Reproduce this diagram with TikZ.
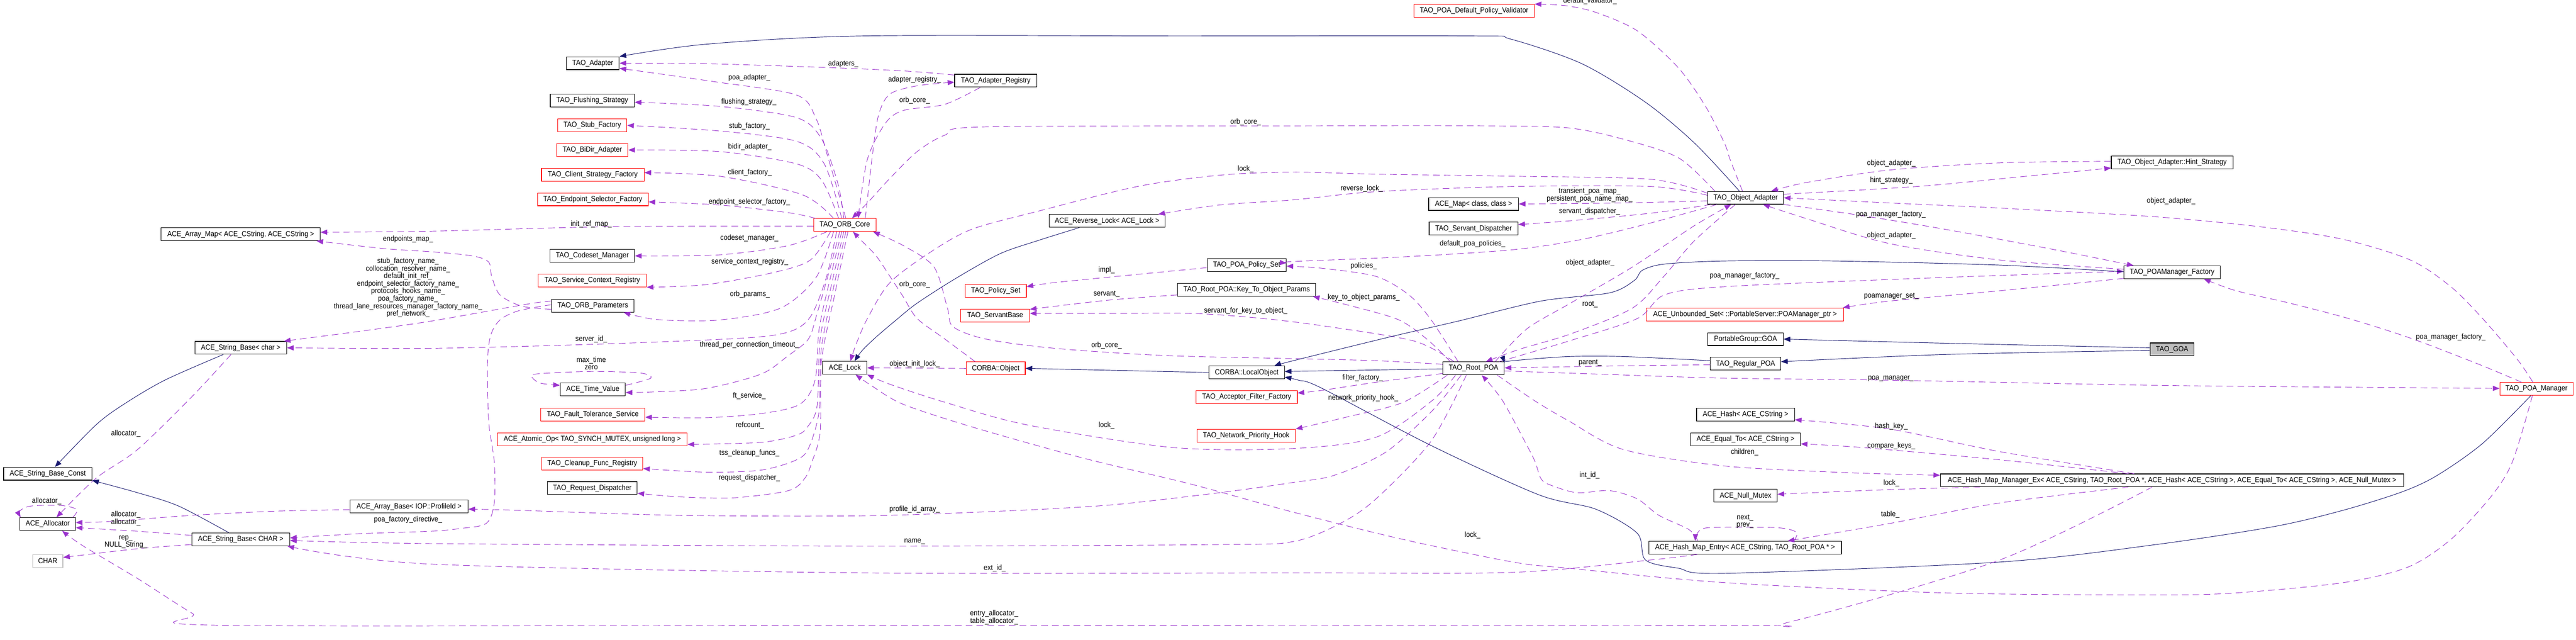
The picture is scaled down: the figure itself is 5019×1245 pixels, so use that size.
\documentclass[tikz,border=0pt]{standalone}
\usepackage{fontspec}
\setmainfont[FakeStretch=0.91]{Liberation Sans}
\usetikzlibrary{arrows.meta}
\definecolor{depc}{HTML}{9A32CD}
\definecolor{inhc}{HTML}{191970}
\definecolor{grayc}{HTML}{BFBFBF}
\newcommand{\dxfont}{\fontsize{14.5}{14.7}\selectfont}
\tikzset{
  box/.style={draw=black, line width=1.1pt, inner sep=0pt, minimum height=25pt, font=\dxfont, fill=white},
  rbox/.style={box, draw=red},
  lbl/.style={inner sep=0pt, font=\dxfont, align=center},
  dep/.style={draw=depc, line width=0.95pt, dash pattern=on 13pt off 8pt, -{Triangle[length=13pt,width=10pt]}},
  inh/.style={draw=inhc, line width=0.95pt, -{Triangle[length=13pt,width=10pt]}}
}
\begin{document}
\begin{tikzpicture}[x=1pt,y=-1pt]
\fill[white] (0,0) rectangle (5019,1245);
\useasboundingbox (0,0) rectangle (5019,1245);
% nodes
\node[box, minimum width=310pt] (arraymap) at (469,456) {ACE\_Array\_Map< ACE\_CString, ACE\_CString >};
\node[box, minimum width=179pt] (sbchar) at (469,677) {ACE\_String\_Base< char >};
\node[box, minimum width=172pt] (sbconst) at (93,922) {ACE\_String\_Base\_Const};
\node[box, minimum width=108pt] (alloc) at (93,1020) {ACE\_Allocator};
\node[box, draw=grayc, minimum width=59pt] (charn) at (93,1092) {CHAR};
\node[box, minimum width=191pt] (sbCHAR) at (469,1050) {ACE\_String\_Base< CHAR >};
\node[box, minimum width=230pt] (arraybase) at (797,986) {ACE\_Array\_Base< IOP::ProfileId >};
\node[rbox, minimum width=121pt] (orbcore) at (1646,438) {TAO\_ORB\_Core};
\node[box, minimum width=103pt] (adapter) at (1155,123) {TAO\_Adapter};
\node[box, minimum width=164pt] (flush) at (1154,196) {TAO\_Flushing\_Strategy};
\node[rbox, minimum width=135pt] (stubf) at (1154,244) {TAO\_Stub\_Factory};
\node[rbox, minimum width=139pt] (bidir) at (1154,292) {TAO\_BiDir\_Adapter};
\node[rbox, minimum width=200pt] (clientf) at (1155,340) {TAO\_Client\_Strategy\_Factory};
\node[rbox, minimum width=216pt] (endpf) at (1155,388) {TAO\_Endpoint\_Selector\_Factory};
\node[box, minimum width=165pt] (codeset) at (1154,498) {TAO\_Codeset\_Manager};
\node[rbox, minimum width=211pt] (scr) at (1154,546) {TAO\_Service\_Context\_Registry};
\node[box, minimum width=160pt] (orbparams) at (1155,595) {TAO\_ORB\_Parameters};
\node[box, minimum width=127pt] (timeval) at (1155,758) {ACE\_Time\_Value};
\node[rbox, minimum width=203pt] (ft) at (1155,807) {TAO\_Fault\_Tolerance\_Service};
\node[rbox, minimum width=370pt] (atomic) at (1154,855) {ACE\_Atomic\_Op< TAO\_SYNCH\_MUTEX, unsigned long >};
\node[rbox, minimum width=197pt] (cleanup) at (1154,902) {TAO\_Cleanup\_Func\_Registry};
\node[box, minimum width=175pt] (reqdisp) at (1154,950) {TAO\_Request\_Dispatcher};
\node[box, minimum width=86pt] (acelock) at (1646,716) {ACE\_Lock};
\node[box, minimum width=160pt] (adreg) at (1940,157) {TAO\_Adapter\_Registry};
\node[box, minimum width=226pt] (revlock) at (2157,430) {ACE\_Reverse\_Lock< ACE\_Lock >};
\node[box, minimum width=154pt] (poapolset) at (2429,516) {TAO\_POA\_Policy\_Set};
\node[rbox, minimum width=119pt] (polset) at (1940,566) {TAO\_Policy\_Set};
\node[box, minimum width=269pt] (k2o) at (2429,564) {TAO\_Root\_POA::Key\_To\_Object\_Params};
\node[rbox, minimum width=134pt] (servant) at (1939,614) {TAO\_ServantBase};
\node[rbox, minimum width=115pt] (corbaobj) at (1940,717) {CORBA::Object};
\node[box, minimum width=147pt] (localobj) at (2429,725) {CORBA::LocalObject};
\node[rbox, minimum width=197pt] (aff) at (2429,773) {TAO\_Acceptor\_Filter\_Factory};
\node[rbox, minimum width=192pt] (nph) at (2428,848) {TAO\_Network\_Priority\_Hook};
\node[rbox, minimum width=235pt] (validator) at (2872,21) {TAO\_POA\_Default\_Policy\_Validator};
\node[box, minimum width=175pt] (acemap) at (2871,397) {ACE\_Map< class, class >};
\node[box, minimum width=173pt] (servdisp) at (2871,445) {TAO\_Servant\_Dispatcher};
\node[box, minimum width=148pt] (objadapter) at (3401,385) {TAO\_Object\_Adapter};
\node[rbox, minimum width=384pt] (unbset) at (3400,612) {ACE\_Unbounded\_Set< ::PortableServer::POAManager\_ptr >};
\node[box, minimum width=120pt] (rootpoa) at (2871,717) {TAO\_Root\_POA};
\node[box, minimum width=147pt] (pggoa) at (3401,660) {PortableGroup::GOA};
\node[box, minimum width=137pt] (regpoa) at (3401,708) {TAO\_Regular\_POA};
\node[box, minimum width=191pt] (acehash) at (3401,807) {ACE\_Hash< ACE\_CString >};
\node[box, minimum width=214pt] (aceeq) at (3401,855) {ACE\_Equal\_To< ACE\_CString >};
\node[box, minimum width=123pt] (nullmutex) at (3401,965) {ACE\_Null\_Mutex};
\node[box, minimum width=375pt] (hmentry) at (3400,1066) {ACE\_Hash\_Map\_Entry< ACE\_CString, TAO\_Root\_POA * >};
\node[box, minimum width=237pt] (hint) at (4232,316) {TAO\_Object\_Adapter::Hint\_Strategy};
\node[box, minimum width=188pt] (poamf) at (4232,530) {TAO\_POAManager\_Factory};
\node[box, fill=grayc, minimum width=86pt] (goa) at (4232,680) {TAO\_GOA};
\node[box, minimum width=903pt] (hmmgr) at (4232,935) {ACE\_Hash\_Map\_Manager\_Ex< ACE\_CString, TAO\_Root\_POA *, ACE\_Hash< ACE\_CString >, ACE\_Equal\_To< ACE\_CString >, ACE\_Null\_Mutex >};
\node[rbox, minimum width=143pt] (poamgr) at (4942,757) {TAO\_POA\_Manager};

% ---- edges: ORB core
\draw[inh] plot[smooth] coordinates {([xshift=-12pt]objadapter.north) (3302,279) (3206,199) (3082,124) (2943,76) (2874,70) (2300,70) (1680,70) (1376,86) (adapter.north east)};
\draw[dep] plot[smooth] coordinates {([yshift=11pt]adreg.west) (1760,138) (1600,131) (1376,124) (adapter.east)};
\draw[dep] plot[smooth] coordinates {([xshift=2pt]orbcore.north) (1611,299) (1590,231) (1552,185) (1392,159) ([yshift=-10pt]adapter.east)};
\draw[dep] plot[smooth] coordinates {([xshift=-2pt]orbcore.north) (1633,359) (1601,271) (1552,229) (1402,207) ([yshift=-3pt]flush.east)};
\draw[dep] plot[smooth] coordinates {([xshift=-6pt]orbcore.north) (1606,319) (1552,275) (1402,255) (stubf.east)};
\draw[dep] plot[smooth] coordinates {([xshift=-12pt]orbcore.north) (1601,351) (1552,319) (1402,295) (bidir.east)};
\draw[dep] plot[smooth] coordinates {([xshift=-22pt]orbcore.north) (1563,379) (1402,343) ([yshift=4pt]clientf.east)};
\draw[dep] plot[smooth] coordinates {([xshift=4pt]orbcore.north west) (1536,414) (1402,399) ([yshift=-5pt]endpf.east)};
\draw[dep] plot[smooth] coordinates {([yshift=-2pt]orbcore.west) (1200,441) (840,450) ([yshift=4pt]arraymap.east)};
\draw[dep] plot[smooth] coordinates {([xshift=-35pt]orbcore.south) (1536,478) (1402,496) (codeset.east)};
\draw[dep] plot[smooth] coordinates {([xshift=-28pt]orbcore.south) (1579,506) (1509,530) (1376,554) (scr.south east)};
\draw[dep] plot[smooth] coordinates {([xshift=-22pt]orbcore.south) (1590,540) (1520,600) (1400,623) (1280,622) ([xshift=60pt]orbparams.south)};
\draw[dep] plot[smooth] coordinates {([xshift=-16pt]orbcore.south) (1610,540) (1580,615) (1540,645) (1450,658) (1160,670) (840,678) (sbchar.east)};
\draw[dep] plot[smooth] coordinates {([xshift=-10pt]orbcore.south) (1615,530) (1592,610) (1575,660) (1536,692) (1483,728) (1376,756) (1268,763) ([yshift=-6pt]timeval.east)};
\draw[dep] plot[smooth] coordinates {([xshift=-6pt]orbcore.south) (1618,540) (1596,640) (1588,740) (1558,787) (1483,805) (1376,813) ([yshift=-5pt]ft.east)};
\draw[dep] plot[smooth] coordinates {([xshift=-2pt]orbcore.south) (1621,550) (1598,660) (1592,790) (1574,830) (1552,847) (1483,861) ([yshift=3pt]atomic.south east)};
\draw[dep] plot[smooth] coordinates {([xshift=2pt]orbcore.south) (1624,560) (1600,680) (1596,800) (1576,871) (1552,895) (1483,915) (1376,919) ([yshift=-10pt]cleanup.east)};
\draw[dep] plot[smooth] coordinates {([xshift=6pt]orbcore.south) (1627,570) (1601,700) (1598,840) (1582,899) (1568,931) (1536,955) (1429,969) (1322,967) ([yshift=-10pt]reqdisp.east)};
\draw[dep] plot[smooth] coordinates {([xshift=40pt]orbcore.north) (1700,300) (1712,223) (1734,183) (1787,167) ([yshift=-3pt]adreg.west)};
\draw[dep] plot[smooth] coordinates {([xshift=-30pt]adreg.south) (1841,203) (1760,215) (1725,240) (1690,310) ([xshift=26pt]orbcore.north)};
\draw[dep] plot[smooth] coordinates {([xshift=-60pt]objadapter.north) (3270,307) (3163,271) (3056,249) (2900,245) (2520,245) (1916,247) (1841,263) (1787,295) (1734,347) (1690,395) ([xshift=14pt]orbcore.north)};
\draw[dep] plot[smooth] coordinates {([xshift=-40pt]corbaobj.north) (1841,660) (1787,620) (1760,578) (1734,538) (1707,498) (1680,470) ([xshift=16pt]orbcore.south)};
\draw[dep] plot[smooth] coordinates {([yshift=8pt]rootpoa.west) (2681,702) (2520,698) (2269,692) (2055,678) (1921,660) (1857,636) (1846,600) (1820,520) (1760,478) ([xshift=-6pt]orbcore.south east)};

% ---- ACE_Lock
\draw[dep] plot[smooth] coordinates {([yshift=9pt]objadapter.west) (3216,349) (2948,343) (2681,339) (2520,335) (2376,341) (2216,363) (2023,411) (1894,446) (1814,490) (1734,550) (1690,620) (1668,670) ([xshift=11pt]acelock.north)};
\draw[inh] plot[smooth] coordinates {([xshift=-54pt]revlock.south) (2023,468) (1948,494) (1862,542) (1787,590) (1747,622) (1707,656) (1680,682) ([xshift=19pt]acelock.north)};
\draw[dep] plot[smooth] coordinates {([yshift=5pt]objadapter.west) (3216,363) (2948,363) (2681,373) (2520,389) (2376,399) ([xshift=-14pt]revlock.north east)};
\draw[dep] (corbaobj.west) -- (acelock.east);
\draw[dep] plot[smooth] coordinates {([xshift=-35pt]rootpoa.south) (2790,780) (2681,851) (2520,873) (2285,871) (2001,827) (1841,783) (1734,748) (acelock.south east)};
\draw[dep] plot[smooth] coordinates {([xshift=-8pt]poamgr.south) (4895,899) (4853,967) (4775,1050) (4691,1104) (4566,1134) (4357,1154) (4200,1158) (3788,1154) (3360,1134) (3056,1106) (2948,1094) (2734,1050) (2520,997) (2323,943) (2108,891) (1894,831) (1760,787) (1700,752) ([xshift=21pt]acelock.south)};

% ---- ORB parameters
\draw[dep] plot[smooth] coordinates {([yshift=9pt]orbparams.west) (1027,592) (840,625) (700,645) ([xshift=-6pt]sbchar.north east)};
\draw[dep] plot[smooth] coordinates {([yshift=-7pt]orbparams.west) (1017,596) (974,574) (958,538) (952,510) (920,498) (840,490) (750,484) ([xshift=-8pt]arraymap.south east)};
\draw[dep] plot[smooth] coordinates {([yshift=2pt]orbparams.west) (1010,605) (975,622) (957,650) (950,700) (952,819) (963,899) (963,979) (947,1019) (894,1029) (840,1034) (696,1039) ([yshift=3pt]sbCHAR.east)};

% ---- Root POA
\draw[dep] plot[smooth] coordinates {([xshift=-14pt]rootpoa.south) (2788,859) (2681,971) (2611,1019) (2520,1054) (2376,1060) (1680,1063) (840,1058) ([yshift=-2pt]sbCHAR.east)};
\draw[dep] plot[smooth] coordinates {([xshift=-93pt]hmentry.south) (3216,1090) (2948,1114) (2520,1115) (1680,1115) (840,1098) ([xshift=-5pt]sbCHAR.south east)};
\draw[dep] plot[smooth] coordinates {([xshift=-24pt]rootpoa.south) (2790,800) (2700,880) (2600,925) (2520,939) (2376,959) (2162,983) (1948,995) (1680,1004) (1322,1003) (1001,993) ([yshift=-5pt]arraybase.east)};
\draw[dep] plot[smooth] coordinates {([xshift=46pt]rootpoa.south) (2990,780) (3056,819) (3163,875) (3360,907) (3600,920) ([yshift=10pt]hmmgr.west)};
\draw[dep] plot[smooth] coordinates {([yshift=-10pt]rootpoa.west) (2681,744) (2574,760) ([yshift=8pt]aff.east)};
\draw[dep] plot[smooth] coordinates {([xshift=-51pt]rootpoa.south) (2734,783) (2627,811) (nph.north east)};
\draw[dep] plot[smooth] coordinates {([xshift=-30pt]rootpoa.north) (2788,622) (2745,574) (2681,538) (2574,522) ([yshift=-2pt]poapolset.east)};
\draw[dep] plot[smooth] coordinates {([xshift=-45pt]rootpoa.north) (2780,660) (2724,622) (2627,594) ([xshift=-6pt]k2o.south east)};
\draw[dep] plot[smooth] coordinates {([xshift=-38pt]rootpoa.north) (2756,664) (2590,636) (2462,620) (2323,610) (2162,610) ([yshift=4pt]servant.east)};
\draw[dep] plot[smooth] coordinates {([xshift=-20pt]objadapter.south) (3300,470) (3240,540) (3180,600) (3060,650) (2960,680) ([xshift=24pt]rootpoa.north)};
\draw[dep] plot[smooth] coordinates {([xshift=42pt]rootpoa.north) (2975,640) (3060,590) (3180,520) (3300,440) ([xshift=-28pt]objadapter.south)};
\draw[dep] plot[smooth] coordinates {([xshift=50pt]rootpoa.north) (3056,664) (3190,620) (3243,574) (3360,558) (3735,542) ([yshift=2pt]poamf.west)};
\draw[dep] plot[smooth] coordinates {([yshift=-5pt]rootpoa.east) (3109,728) (3360,736) (3681,740) (4200,750) (4618,754) ([yshift=1pt]poamgr.west)};
\draw[inh] plot[smooth] coordinates {([yshift=6pt]regpoa.west) (3163,694) (3056,694) (2948,702) ([yshift=-2pt]rootpoa.north east)};
\draw[dep] plot[smooth] coordinates {([yshift=-2pt]regpoa.west) (3163,712) ([yshift=1pt]rootpoa.east)};
\draw[inh] plot[smooth] coordinates {([yshift=3pt]goa.west) (3788,668) (pggoa.east)};
\draw[inh] plot[smooth] coordinates {([yshift=-2pt]goa.west) (3788,690) ([yshift=4pt]regpoa.east)};
\draw[inh] ([yshift=-1pt]rootpoa.west) -- ([yshift=2pt]localobj.east);
\draw[inh] plot[smooth] coordinates {([xshift=-11pt]poamgr.south) (4837,863) (4749,925) (4681,957) (4566,993) (4430,1025) (4200,1060) (3896,1094) (3360,1116) (3270,1106) (3206,1090) (3190,1038) (3109,991) (2998,963) (2788,867) (2574,755) (2530,740) ([yshift=-9pt]localobj.east)};
\draw[inh] plot[smooth] coordinates {([yshift=1pt]poamf.west) (3896,516) (3574,508) (3360,508) (3243,514) (3200,526) (3184,546) (3136,570) (3002,586) (2841,625) (2707,656) (2520,702) ([xshift=54pt]localobj.north)};
\draw[inh] (localobj.west) -- (corbaobj.east);
\draw[dep] plot[smooth] coordinates {([yshift=-5pt]poapolset.west) (2216,534) (2055,550) ([yshift=8pt]polset.east)};
\draw[dep] plot[smooth] coordinates {([yshift=-10pt]k2o.west) (2162,584) ([yshift=12pt]servant.east)};

% ---- Object adapter
\draw[dep] plot[smooth] coordinates {([yshift=-6pt]objadapter.west) (3163,395) (acemap.east)};
\draw[dep] plot[smooth] coordinates {([xshift=-67pt]objadapter.south) (3216,415) (3056,430) ([yshift=8pt]servdisp.east)};
\draw[dep] plot[smooth] coordinates {([xshift=-56pt]objadapter.south) (3216,434) (3082,466) (2948,486) (2734,500) (2520,509) ([yshift=4pt]poapolset.east)};
\draw[dep] plot[smooth] coordinates {([xshift=-6pt]objadapter.north) (3371,311) (3360,279) (3323,207) (3270,132) (3190,60) (3109,24) (3050,11) (validator.north east)};
\draw[dep] plot[smooth] coordinates {([yshift=7pt]objadapter.east) (3735,363) (3949,343) ([yshift=-11pt]hint.west)};
\draw[dep] plot[smooth] coordinates {([yshift=2pt]hint.west) (3896,317) (3681,331) (3521,355) ([xshift=50pt]objadapter.north)};
\draw[dep] plot[smooth] coordinates {(objadapter.south east) (3617,418) (3788,446) (4003,486) ([xshift=-75pt]poamf.north)};
\draw[dep] plot[smooth] coordinates {([yshift=6pt]poamf.west) (3896,506) (3681,474) (3521,426) ([xshift=34pt]objadapter.south)};
\draw[dep] plot[smooth] coordinates {([yshift=-12pt]poamf.west) (3896,566) (3681,586) ([xshift=-2pt]unbset.north east)};
\draw[dep] plot[smooth] coordinates {([xshift=-7pt]poamgr.north) (4905,700) (4837,620) (4775,558) (4696,506) (4566,466) (4409,442) (4200,422) (3896,405) (3681,395) (objadapter.east)};
\draw[dep] plot[smooth] coordinates {([xshift=-29pt]poamgr.north) (4827,708) (4696,658) (4576,620) (4461,590) (4357,566) ([xshift=62pt]poamf.south)};

% ---- Hash map
\draw[dep] plot[smooth] coordinates {([xshift=-74pt]hmmgr.north) (3896,879) (3681,835) ([yshift=-10pt]acehash.east)};
\draw[dep] plot[smooth] coordinates {([xshift=-85pt]hmmgr.north) (3896,895) (3628,871) ([yshift=-9pt]aceeq.east)};
\draw[dep] plot[smooth] coordinates {([xshift=-374pt]hmmgr.south) (3681,953) ([yshift=3pt]nullmutex.east)};
\draw[dep] plot[smooth] coordinates {([xshift=-85pt]hmmgr.south) (3896,979) (3681,1019) ([xshift=83pt]hmentry.north)};
\draw[dep] plot[smooth] coordinates {([xshift=-39pt]hmmgr.south) (3896,1090) (3489,1210) (3360,1217) (1680,1217) (428,1217) (375,1194) (268,1126) (161,1062) ([xshift=28pt]alloc.south)};
\draw[dep] plot[smooth] coordinates {([xshift=-92pt]hmentry.north) (3291,1031) (3232,1003) (3190,971) (3136,955) (3072,959) (3018,943) (3002,931) (2991,899) (2975,867) (2927,779) ([xshift=16pt]rootpoa.south)};
\draw[dep] plot[smooth] coordinates {([xshift=95pt]hmentry.north) (3500,1036) (3460,1027) (3330,1027) (3307,1038) ([xshift=-97pt]hmentry.north)};

% ---- strings
\draw[inh] plot[smooth] coordinates {([xshift=-34pt]sbchar.south) (321,740) (241,787) (187,827) ([xshift=14pt]sbconst.north)};
\draw[dep] plot[smooth] coordinates {([xshift=-19pt]sbchar.south) (375,771) (268,875) (187,931) ([xshift=17pt]alloc.north)};
\draw[inh] plot[smooth] coordinates {([xshift=-23pt]sbCHAR.north) (348,985) (268,959) (sbconst.south east)};
\draw[dep] plot[smooth] coordinates {([yshift=8pt]sbCHAR.west) (268,1034) ([yshift=-7pt]alloc.east)};
\draw[dep] plot[smooth] coordinates {([yshift=-10pt]sbCHAR.west) (268,1068) ([yshift=7pt]charn.east)};
\draw[dep] plot[smooth] coordinates {([yshift=-6pt]arraybase.west) (536,995) (375,1003) (214,1015) ([yshift=3pt]alloc.east)};
\draw[dep] plot[smooth] coordinates {([xshift=49pt]alloc.north) (150,992) (120,984) (60,985) (38,995) ([xshift=-53pt]alloc.north)};
\draw[dep] plot[smooth] coordinates {([yshift=8pt]timeval.east) (1268,736) (1247,726) (1151,723) (1044,728) (1038,736) (1054,746) ([yshift=8pt]timeval.west)};

% ---- labels
\node[lbl] (l01) at (795,466) {endpoints\_map\_};
\node[lbl] (l02) at (795,560) {stub\_factory\_name\_\\collocation\_resolver\_name\_\\default\_init\_ref\_\\endpoint\_selector\_factory\_name\_\\protocols\_hooks\_name\_\\poa\_factory\_name\_\\thread\_lane\_resources\_manager\_factory\_name\_\\pref\_network\_};
\node[lbl] (l03) at (245,844) {allocator\_};
\node[lbl] (l04) at (91,975) {allocator\_};
\node[lbl] (l05) at (245,1001) {allocator\_};
\node[lbl] (l06) at (245,1017) {allocator\_};
\node[lbl] (l07) at (245,1055) {rep\_\\NULL\_String\_};
\node[lbl] (l08) at (795,1012) {poa\_factory\_directive\_};
\node[lbl] (l09) at (1643,124) {adapters\_};
\node[lbl] (l10) at (1460,151) {poa\_adapter\_};
\node[lbl] (l11) at (1459,199) {flushing\_strategy\_};
\node[lbl] (l12) at (1460,246) {stub\_factory\_};
\node[lbl] (l13) at (1461,286) {bidir\_adapter\_};
\node[lbl] (l14) at (1461,336) {client\_factory\_};
\node[lbl] (l15) at (1460,393) {endpoint\_selector\_factory\_};
\node[lbl] (l16) at (1152,436) {init\_ref\_map\_};
\node[lbl] (l17) at (1460,464) {codeset\_manager\_};
\node[lbl] (l18) at (1461,510) {service\_context\_registry\_};
\node[lbl] (l19) at (1461,573) {orb\_params\_};
\node[lbl] (l20) at (1152,660) {server\_id\_};
\node[lbl] (l21) at (1460,671) {thread\_per\_connection\_timeout\_};
\node[lbl] (l22) at (1152,707) {max\_time\\zero};
\node[lbl] (l23) at (1460,771) {ft\_service\_};
\node[lbl] (l24) at (1461,828) {refcount\_};
\node[lbl] (l25) at (1460,882) {tss\_cleanup\_funcs\_};
\node[lbl] (l26) at (1460,930) {request\_dispatcher\_};
\node[lbl] (l27) at (1782,155) {adapter\_registry\_};
\node[lbl] (l28) at (1782,195) {orb\_core\_};
\node[lbl] (l29) at (2427,238) {orb\_core\_};
\node[lbl] (l30) at (2427,329) {lock\_};
\node[lbl] (l31) at (2156,526) {impl\_};
\node[lbl] (l32) at (1782,554) {orb\_core\_};
\node[lbl] (l33) at (2156,572) {servant\_};
\node[lbl] (l34) at (2427,605) {servant\_for\_key\_to\_object\_};
\node[lbl] (l35) at (2156,672) {orb\_core\_};
\node[lbl] (l36) at (1782,708) {object\_init\_lock\_};
\node[lbl] (l37) at (2156,828) {lock\_};
\node[lbl] (l38) at (1782,992) {profile\_id\_array\_};
\node[lbl] (l39) at (1782,1054) {name\_};
\node[lbl] (l40) at (1938,1106) {ext\_id\_};
\node[lbl] (l41) at (1937,1202) {entry\_allocator\_\\table\_allocator\_};
\node[lbl] (l42) at (3098,2) {default\_validator\_};
\node[lbl] (l43) at (2653,367) {reverse\_lock\_};
\node[lbl] (l44) at (3097,380) {transient\_poa\_map\_\\persistent\_poa\_name\_map\_};
\node[lbl] (l45) at (3097,411) {servant\_dispatcher\_};
\node[lbl] (l46) at (2869,475) {default\_poa\_policies\_};
\node[lbl] (l47) at (2657,518) {policies\_};
\node[lbl] (l48) at (3098,512) {object\_adapter\_};
\node[lbl] (l49) at (2657,579) {key\_to\_object\_params\_};
\node[lbl] (l50) at (3098,593) {root\_};
\node[lbl] (l51) at (3399,537) {poa\_manager\_factory\_};
\node[lbl] (l52) at (3098,706) {parent\_};
\node[lbl] (l53) at (2655,736) {filter\_factory\_};
\node[lbl] (l54) at (2656,775) {network\_priority\_hook\_};
\node[lbl] (l55) at (3097,925) {int\_id\_};
\node[lbl] (l56) at (2869,1042) {lock\_};
\node[lbl] (l57) at (3685,318) {object\_adapter\_};
\node[lbl] (l58) at (3685,351) {hint\_strategy\_};
\node[lbl] (l59) at (4230,391) {object\_adapter\_};
\node[lbl] (l60) at (3684,417) {poa\_manager\_factory\_};
\node[lbl] (l61) at (3685,458) {object\_adapter\_};
\node[lbl] (l62) at (3685,577) {poamanager\_set\_};
\node[lbl] (l63) at (3684,737) {poa\_manager\_};
\node[lbl] (l64) at (3685,830) {hash\_key\_};
\node[lbl] (l65) at (3685,868) {compare\_keys\_};
\node[lbl] (l66) at (3399,880) {children\_};
\node[lbl] (l67) at (3685,940) {lock\_};
\node[lbl] (l68) at (3683,1001) {table\_};
\node[lbl] (l69) at (3400,1015) {next\_\\prev\_};
\node[lbl] (l70) at (4775,656) {poa\_manager\_factory\_};
\end{tikzpicture}
\end{document}
